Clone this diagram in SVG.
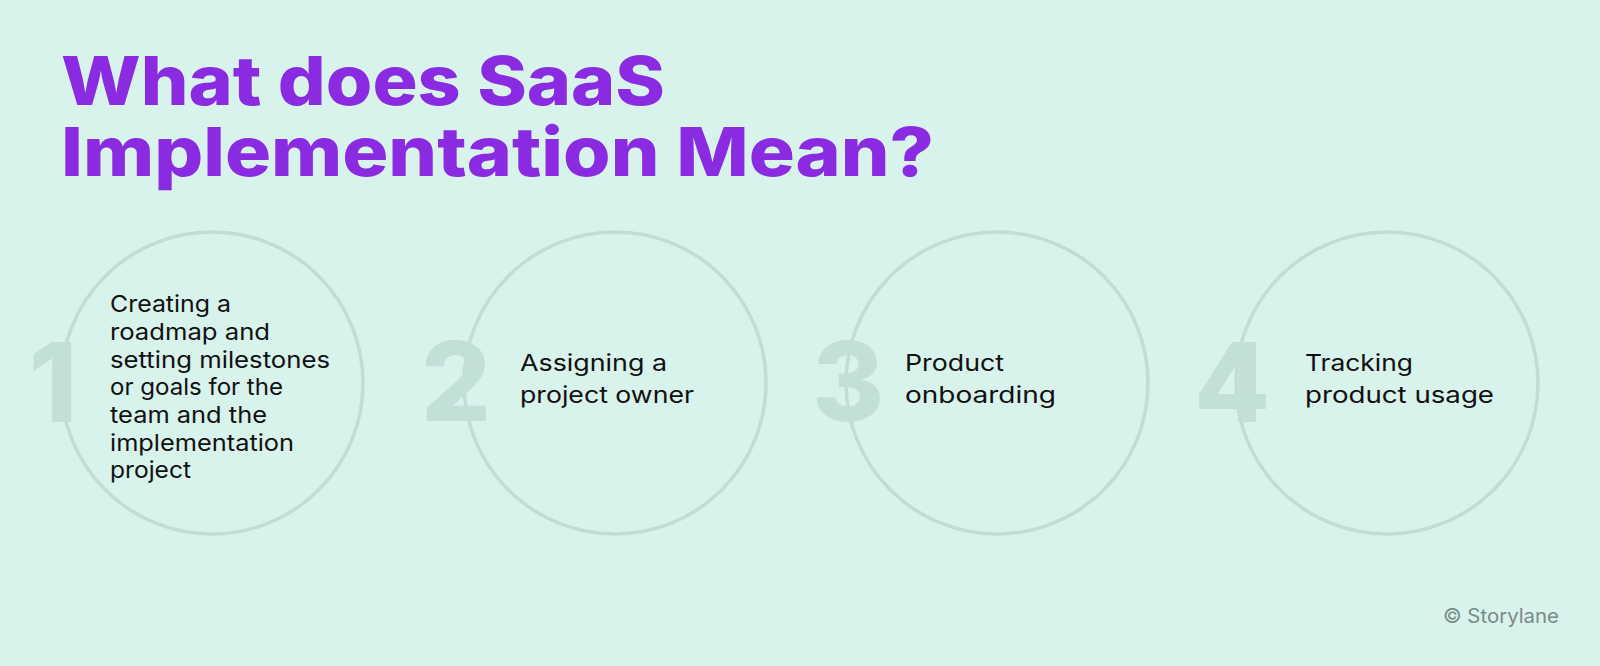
<svg xmlns="http://www.w3.org/2000/svg" width="1600" height="666" viewBox="0 0 1600 666">
  <style>
    .title { font-family: Inter, "Liberation Sans", sans-serif; font-weight: 800; font-size: 68px; fill: #8a2be2; }
    .ring { fill: none; stroke: #c3ddd6; stroke-width: 3.5; }
    .num { font-family: Inter, "Liberation Sans", sans-serif; font-weight: 800; font-size: 110px; fill: #c3e0d8; text-anchor: middle; }
    .body { font-family: Inter, "Liberation Sans", sans-serif; font-size: 23px; fill: #111111; }
    .copy { font-family: Inter, "Liberation Sans", sans-serif; font-size: 19.5px; fill: #7a8b88; }
  </style>
  <rect width="1600" height="666" fill="#d8f2ec"/>
  <g id="title">
    <text class="title" x="61" y="105" textLength="604" lengthAdjust="spacingAndGlyphs">What does SaaS</text>
    <text class="title" x="61" y="176" textLength="873" lengthAdjust="spacingAndGlyphs">Implementation Mean?</text>
  </g>
  <g id="connectors"></g>
  <g id="step1">
    <circle class="ring" cx="212" cy="383" r="151"/>
    <text class="num" x="53" y="422">1</text>
    <text class="body" x="110" y="312" textLength="121" lengthAdjust="spacingAndGlyphs">Creating a</text>
    <text class="body" x="110" y="340" textLength="160" lengthAdjust="spacingAndGlyphs">roadmap and</text>
    <text class="body" x="110" y="368" textLength="220" lengthAdjust="spacingAndGlyphs">setting milestones</text>
    <text class="body" x="110" y="395" textLength="173" lengthAdjust="spacingAndGlyphs">or goals for the</text>
    <text class="body" x="110" y="423" textLength="157" lengthAdjust="spacingAndGlyphs">team and the</text>
    <text class="body" x="110" y="451" textLength="184" lengthAdjust="spacingAndGlyphs">implementation</text>
    <text class="body" x="110" y="478" textLength="81" lengthAdjust="spacingAndGlyphs">project</text>
  </g>
  <g id="step2">
    <circle class="ring" cx="615" cy="383" r="151"/>
    <text class="num" x="456" y="421">2</text>
    <text class="body" x="520" y="371" textLength="147" lengthAdjust="spacingAndGlyphs">Assigning a</text>
    <text class="body" x="520" y="403" textLength="174" lengthAdjust="spacingAndGlyphs">project owner</text>
  </g>
  <g id="step3">
    <circle class="ring" cx="997" cy="383" r="151"/>
    <text class="num" x="848" y="421">3</text>
    <text class="body" x="905" y="371" textLength="99" lengthAdjust="spacingAndGlyphs">Product</text>
    <text class="body" x="905" y="403" textLength="151" lengthAdjust="spacingAndGlyphs">onboarding</text>
  </g>
  <g id="step4">
    <circle class="ring" cx="1387" cy="383" r="151"/>
    <text class="num" x="1232" y="422">4</text>
    <text class="body" x="1305" y="371" textLength="108" lengthAdjust="spacingAndGlyphs">Tracking</text>
    <text class="body" x="1305" y="403" textLength="189" lengthAdjust="spacingAndGlyphs">product usage</text>
  </g>
  <g id="credit">
    <text class="copy" x="1443" y="623" textLength="116" lengthAdjust="spacingAndGlyphs">© Storylane</text>
  </g>
</svg>
